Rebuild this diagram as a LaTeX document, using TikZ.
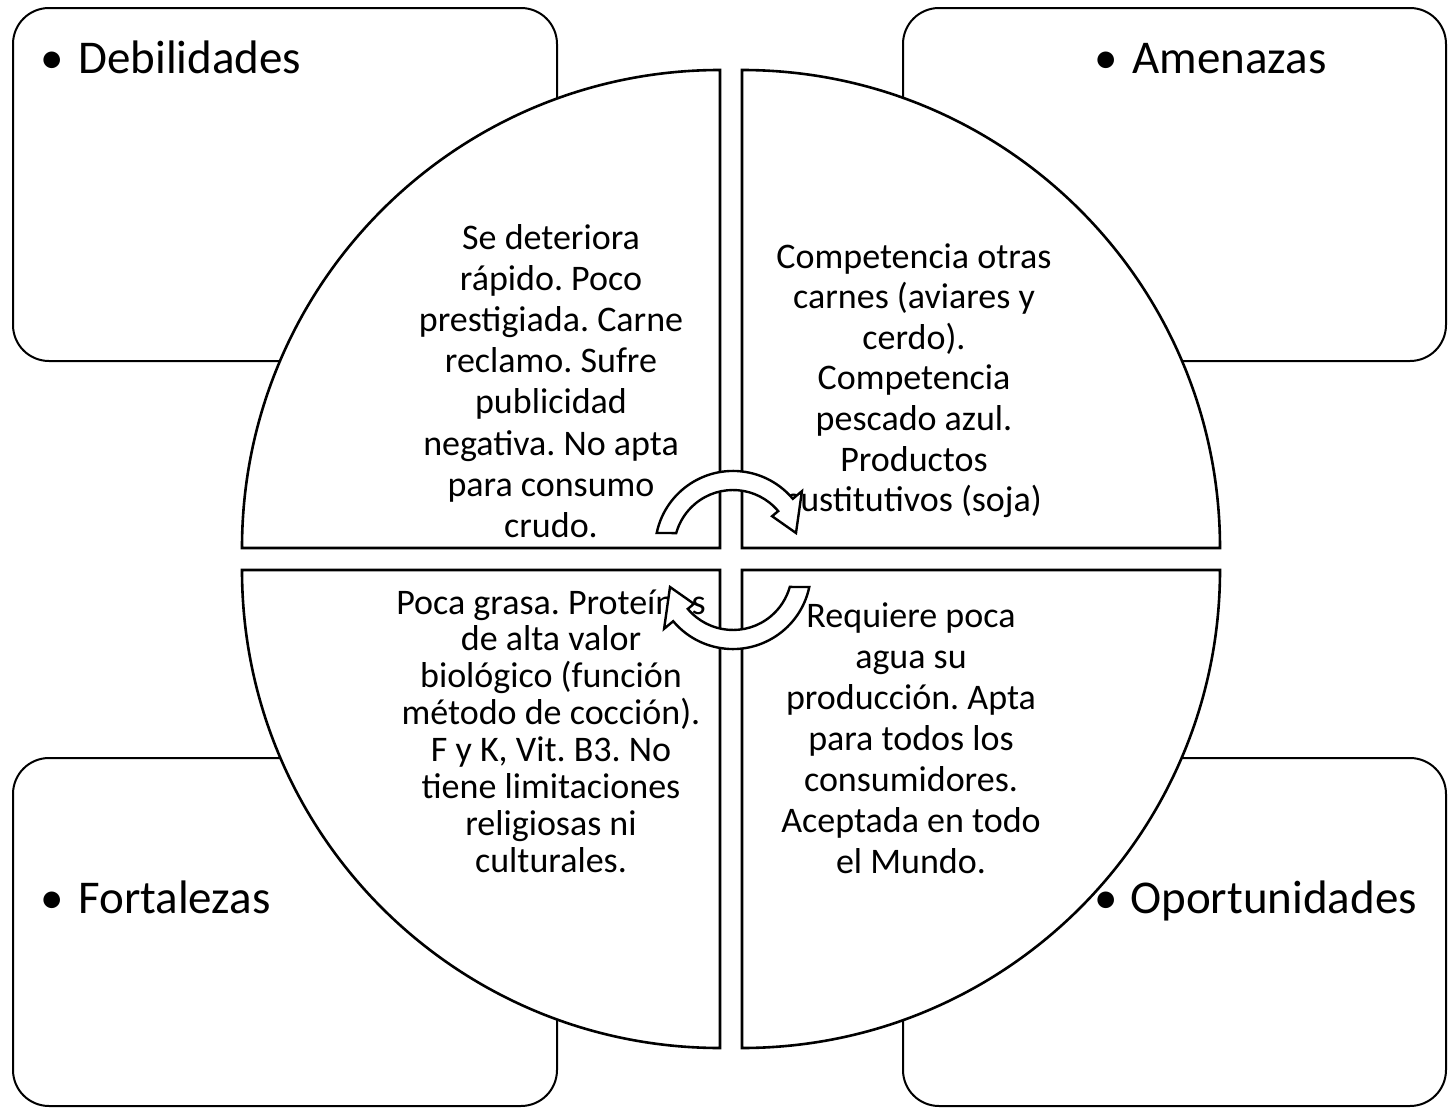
\documentclass[tikz,border=0pt]{standalone}
\usepackage{fontspec}
\setmainfont{Carlito}
\frenchspacing
\newcommand\myArrowPath{(656.7,533) arc[start angle=-168.2, end angle=-40, radius=78] -- (801.9,491.2) -- (796,533) -- (772.1,516.2) -- (778.2,511.1) arc[start angle=-40, end angle=-164.3, radius=59] -- cycle}
\begin{document}
\begin{tikzpicture}[x=0.5pt,y=-0.5pt]
\tikzset{
  boxsty/.style={draw=black, line width=1pt, fill=white, rounded corners=18pt},
  quadsty/.style={draw=black, line width=1.3pt, fill=white, line join=miter},
  arrowsty/.style={draw=black, line width=1.2pt, fill=white, line join=miter},
  labsty/.style={font=\fontsize{23.5}{28}\selectfont, inner sep=0pt, anchor=base west},
  bulsty/.style={font=\fontsize{23.5}{28}\selectfont, inner sep=0pt, anchor=base},
  txtsty/.style={font=\fontsize{18}{21}\selectfont, inner sep=0pt, anchor=base},
}
\fill[white] (0,0) rectangle (1448,1108);
\useasboundingbox (0,0) rectangle (1448,1108);
% outer rounded boxes
\draw[boxsty] (13,8) rectangle (557,361);
\draw[boxsty] (903,8) rectangle (1446,361);
\draw[boxsty] (13,758) rectangle (557,1106);
\draw[boxsty] (903,758) rectangle (1446,1106);
% quadrants
\draw[quadsty] (720,548) -- (242,548) arc[start angle=180, end angle=270, radius=478] -- cycle;
\draw[quadsty] (742,548) -- (742,70) arc[start angle=270, end angle=360, radius=478] -- cycle;
\draw[quadsty] (720,570) -- (242,570) arc[start angle=180, end angle=90, radius=478] -- cycle;
\draw[quadsty] (742,570) -- (1220,570) arc[start angle=0, end angle=90, radius=478] -- cycle;
% box labels
\node[bulsty] (bD) at (52,73) {•};
\node[labsty] (lD) at (78,73) {Debilidades};
\node[bulsty] (bA) at (1106,73) {•};
\node[labsty] (lA) at (1132,73) {Amenazas};
\node[bulsty] (bF) at (52,913) {•};
\node[labsty] (lF) at (78,913) {Fortalezas};
\node[bulsty] (bO) at (1106,913) {•};
\node[labsty] (lO) at (1130,913) {Oportunidades};
% quadrant texts
\foreach \t [count=\i from 0] in {Se deteriora, rápido. Poco, prestigiada. Carne, reclamo. Sufre, publicidad, negativa. No apta, para consumo, crudo.}
  \node[txtsty] (d\i) at (551,{249+41.2*\i}) {\t};
\foreach \t [count=\i from 0] in {Competencia otras, carnes (aviares y, cerdo)., Competencia, pescado azul., Productos, sustitutivos (soja)}
  \node[txtsty] (a\i) at (914,{268+40.6*\i}) {\t};
\foreach \t [count=\i from 0] in {Poca grasa. Proteínas, de alta valor, biológico (función, método de cocción)., {F y K, Vit. B3. No}, tiene limitaciones, religiosas ni, culturales.}
  \node[txtsty] (f\i) at (551,{614+36.9*\i}) {\t};
\foreach \t [count=\i from 0] in {Requiere poca, agua su, producción. Apta, para todos los, consumidores., Aceptada en todo, el Mundo.}
  \node[txtsty] (o\i) at (911,{627+41*\i}) {\t};
% circular arrows
\draw[arrowsty] \myArrowPath;
\begin{scope}[rotate around={180:(733,560)}]
\draw[arrowsty] \myArrowPath;
\end{scope}
\end{tikzpicture}
\end{document}
